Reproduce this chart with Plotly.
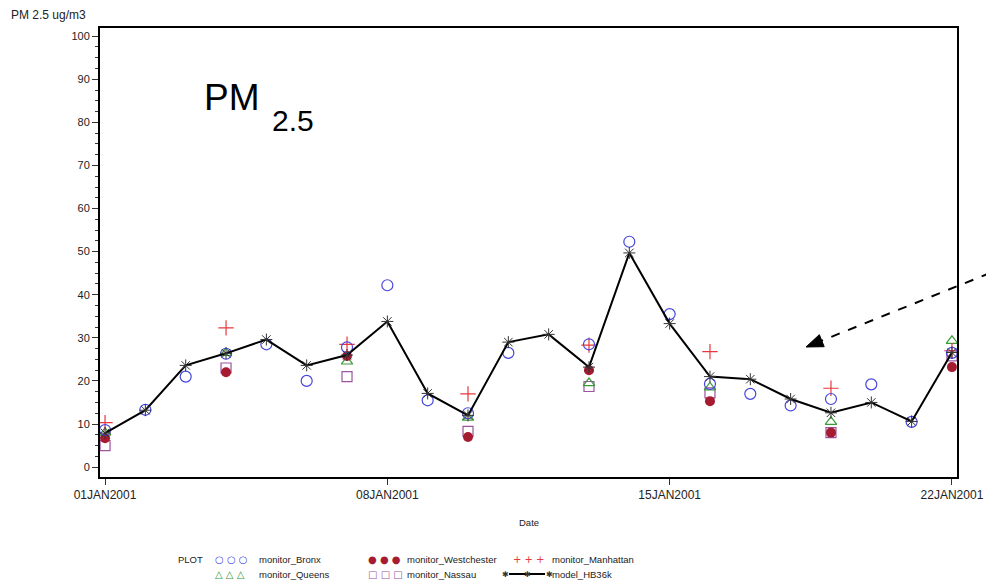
import plotly.graph_objects as go

# ---------------- data ----------------
days = ["2001-01-%02d" % d for d in range(1, 23)]
monitor_days = ["2001-01-01", "2001-01-04", "2001-01-07", "2001-01-10",
                "2001-01-13", "2001-01-16", "2001-01-19", "2001-01-22"]

model_hb36k = [7.9, 13.2, 23.6, 26.4, 29.6, 23.6, 26.0, 33.8, 17.1, 12.0, 29.0,
               30.8, 23.2, 49.7, 33.3, 21.0, 20.4, 15.8, 12.6, 15.0, 10.6, 26.6]
monitor_bronx = [8.6, 13.3, 21.0, 26.3, 28.5, 20.0, 27.8, 42.2, 15.5, 12.5, 26.5,
                 None, 28.5, 52.3, 35.5, 19.3, 17.0, 14.3, 15.8, 19.2, 10.5, 26.5]
monitor_queens = [8.0, 26.5, 24.5, 11.5, 19.5, 18.5, 10.5, 29.3]
monitor_westchester = [6.7, 22.0, 25.8, 7.0, 22.5, 15.3, 8.0, 23.2]
monitor_manhattan = [10.3, 32.3, 28.5, 17.0, 28.3, 26.8, 18.3, 27.0]
monitor_nassau = [5.0, 23.0, 21.0, 8.3, 18.7, 17.2, 8.0, 25.8]

x_tickvals = ["2001-01-01", "2001-01-08", "2001-01-15", "2001-01-22"]
x_ticktext = ["01JAN2001", "08JAN2001", "15JAN2001", "22JAN2001"]
y_tickvals = [0, 10, 20, 30, 40, 50, 60, 70, 80, 90, 100]

# ---------------- style ----------------
C_BRONX = "#4646dc"
C_QUEENS = "#3a9a3a"
C_WEST = "#a51c30"
C_MANH = "#e8383d"
C_NASSAU = "#9c54a0"
TXT = "#222222"
FONT = "Liberation Sans, Arial, sans-serif"

W, H = 986, 582
L, R, T, B = 100, 29, 28, 105
PW, PH = W - L - R, H - T - B


def px(xp, yp):
    """window pixel position -> paper coordinates (layout decoration only)"""
    return (xp - L) / PW, (H - B - yp) / PH


fig = go.Figure()

fig.add_trace(go.Scatter(x=monitor_days, y=monitor_nassau, mode="markers",
                         name="monitor_Nassau",
                         marker=dict(symbol="square-open", size=10, color=C_NASSAU,
                                     line=dict(width=1.2, color=C_NASSAU))))
fig.add_trace(go.Scatter(x=monitor_days, y=monitor_queens, mode="markers",
                         name="monitor_Queens",
                         marker=dict(symbol="triangle-up-open", size=10, color=C_QUEENS,
                                     line=dict(width=1.2, color=C_QUEENS))))
fig.add_trace(go.Scatter(x=monitor_days, y=monitor_westchester, mode="markers",
                         name="monitor_Westchester",
                         marker=dict(symbol="circle", size=10, color=C_WEST,
                                     line=dict(width=0))))
fig.add_trace(go.Scatter(x=monitor_days, y=monitor_manhattan, mode="markers",
                         name="monitor_Manhattan",
                         marker=dict(symbol="cross-thin-open", size=11, color=C_MANH,
                                     line=dict(width=1.2, color=C_MANH))))
fig.add_trace(go.Scatter(x=days, y=monitor_bronx, mode="markers",
                         name="monitor_Bronx",
                         marker=dict(symbol="circle-open", size=11, color=C_BRONX,
                                     line=dict(width=1.2, color=C_BRONX))))
fig.add_trace(go.Scatter(x=days, y=model_hb36k, mode="lines+markers",
                         name="model_HB36k",
                         line=dict(color="black", width=2),
                         marker=dict(symbol="asterisk-open", size=10, color="#333",
                                     line=dict(width=1, color="#333"))))

annotations = []
shapes = []

# y axis title in the top-left corner
x0, y0 = px(9, 15)
annotations.append(dict(x=x0, y=y0, xref="paper", yref="paper", xanchor="left",
                        yanchor="middle", showarrow=False, text="PM 2.5 ug/m3",
                        font=dict(size=12, color=TXT, family=FONT)))
# x axis title
x0, y0 = px(528, 522)
annotations.append(dict(x=0.5, y=y0, xref="paper", yref="paper", xanchor="center",
                        yanchor="middle", showarrow=False, text="Date",
                        font=dict(size=9.5, color=TXT, family=FONT)))
# PM2.5 label (main text + large subscript)
x0, y0 = px(202, 97)
annotations.append(dict(x=x0, y=y0, xref="paper", yref="paper", xanchor="left",
                        yanchor="middle", showarrow=False, text="PM",
                        font=dict(size=37, color="black", family=FONT)))
x0, y0 = px(270, 120)
annotations.append(dict(x=x0, y=y0, xref="paper", yref="paper", xanchor="left",
                        yanchor="middle", showarrow=False, text="2.5",
                        font=dict(size=30, color="black", family=FONT)))

# dashed arrow: dashed shaft + filled triangular head
tip = (806.0, 347.0)
tail = (990.0, 273.0)
dx, dy = tail[0] - tip[0], tail[1] - tip[1]
ln = (dx * dx + dy * dy) ** 0.5
ux, uy = dx / ln, dy / ln
nx, ny = -uy, ux
head_len, head_half = 17.0, 6.5
base = (tip[0] + ux * head_len, tip[1] + uy * head_len)
p1 = (base[0] + nx * head_half, base[1] + ny * head_half)
p2 = (base[0] - nx * head_half, base[1] - ny * head_half)
sx, sy = px(*tail)
mx, my = px(base[0] - ux * 2, base[1] - uy * 2)
shapes.append(dict(type="line", xref="paper", yref="paper", x0=sx, y0=sy, x1=mx, y1=my,
                   line=dict(color="black", width=2, dash="dash")))
pt = [px(*tip), px(*p1), px(*p2)]
path = "M %f %f L %f %f L %f %f Z" % (pt[0][0], pt[0][1], pt[1][0], pt[1][1],
                                      pt[2][0], pt[2][1])
shapes.append(dict(type="path", xref="paper", yref="paper", path=path,
                   fillcolor="black", line=dict(color="black", width=1)))

# manual legend
r1, r2 = 559, 574
legend_items = [
    (213, r1, "○ ○ ○", C_BRONX, 257, "monitor_Bronx"),
    (213, r2, "△ △ △", C_QUEENS, 257, "monitor_Queens"),
    (366, r1, "● ● ●", C_WEST, 405, "monitor_Westchester"),
    (366, r2, "□ □ □", C_NASSAU, 405, "monitor_Nassau"),
    (511, r1, "+ + +", C_MANH, 550, "monitor_Manhattan"),
]
x0, y0 = px(176, r1)
annotations.append(dict(x=x0, y=y0, xref="paper", yref="paper", xanchor="left",
                        yanchor="middle", showarrow=False, text="PLOT",
                        font=dict(size=9.5, color=TXT, family=FONT)))
for sxp, syp, sym, col, txp, label in legend_items:
    a, b = px(sxp, syp)
    annotations.append(dict(x=a, y=b, xref="paper", yref="paper", xanchor="left",
                            yanchor="middle", showarrow=False, text=sym,
                            font=dict(size=10, color=col, family="DejaVu Sans")))
    a, b = px(txp, syp)
    annotations.append(dict(x=a, y=b, xref="paper", yref="paper", xanchor="left",
                            yanchor="middle", showarrow=False, text=label,
                            font=dict(size=9.5, color=TXT, family=FONT)))
# model legend entry: line with asterisks
a0, b0 = px(509, r2)
a1, _ = px(545, r2)
shapes.append(dict(type="line", xref="paper", yref="paper", x0=a0, y0=b0, x1=a1, y1=b0,
                   line=dict(color="black", width=2)))
a, b = px(527, r2)
annotations.append(dict(x=a, y=b, xref="paper", yref="paper", xanchor="center",
                        yanchor="middle", showarrow=False, text="✱      ✱      ✱",
                        font=dict(size=8, color="#333", family="DejaVu Sans")))
a, b = px(550, r2)
annotations.append(dict(x=a, y=b, xref="paper", yref="paper", xanchor="left",
                        yanchor="middle", showarrow=False, text="model_HB36k",
                        font=dict(size=9.5, color=TXT, family=FONT)))

fig.update_layout(
    width=W, height=H,
    margin=dict(l=L, r=R, t=T, b=B),
    paper_bgcolor="white", plot_bgcolor="white",
    showlegend=False,
    font=dict(family=FONT, size=10, color=TXT),
    annotations=annotations,
    shapes=shapes,
)
fig.update_xaxes(
    type="date", automargin=False,
    range=["2000-12-31 21:00", "2001-01-22 03:00"],
    tickvals=x_tickvals, ticktext=x_ticktext,
    ticks="outside", ticklen=6, tickwidth=1, tickcolor="#333",
    showgrid=False, zeroline=False,
    showline=True, mirror=True, linecolor="black", linewidth=2,
    tickfont=dict(size=12, color=TXT, family=FONT),
)
fig.update_yaxes(
    automargin=False,
    range=[-2.3, 101.9],
    tickvals=y_tickvals,
    ticks="outside", ticklen=6, tickwidth=1, tickcolor="#333",
    minor=dict(dtick=2.5, ticks="outside", ticklen=3, tickcolor="#333", showgrid=False),
    showgrid=False, zeroline=False,
    showline=True, mirror=True, linecolor="black", linewidth=2,
    tickfont=dict(size=11, color=TXT, family=FONT),
)

fig.write_html(
    "out.html",
    config={"displayModeBar": False},
    post_script="document.body.style.margin='0';document.body.style.overflow='hidden';",
)
